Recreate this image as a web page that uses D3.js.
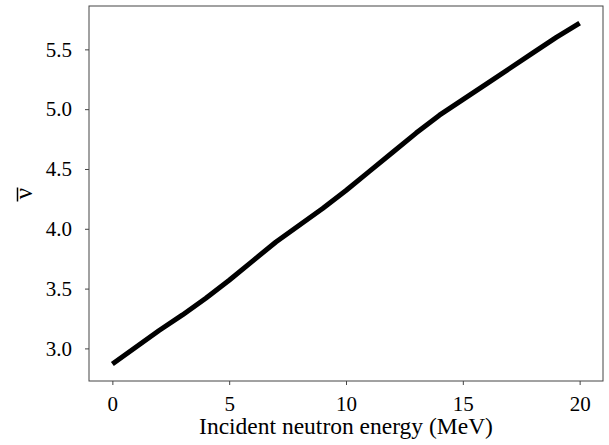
<!DOCTYPE html>
<html>
<head>
<meta charset="utf-8">
<script src="https://cdn.jsdelivr.net/npm/d3@7"></script>
</head>
<body style="margin:0; background:#fff">
<div id="chart"></div>
<script>
// neutron energy (MeV) and average neutrons per fission
var energy = [0, 1, 2, 3, 4, 5, 6, 7, 8, 9, 10, 11, 12, 13, 14, 15, 16, 17, 18, 19, 20];
var nubar = [2.87, 3.01, 3.15, 3.28, 3.42, 3.57, 3.73, 3.89, 4.03, 4.17, 4.32,
             4.48, 4.64, 4.80, 4.95, 5.08, 5.21, 5.34, 5.47, 5.60, 5.72];
var xTicks = [0, 5, 10, 15, 20];
var yTicks = [3.0, 3.5, 4.0, 4.5, 5.0, 5.5];

var serif = "Liberation Serif";

var svgWidth = 609, svgHeight = 445;
var margin = { top: 6, right: 6, bottom: 64, left: 89 };
var width = svgWidth - margin.left - margin.right;
var height = svgHeight - margin.top - margin.bottom;

var svg = d3.select("#chart").append("svg")
    .attr("width", svgWidth)
    .attr("height", svgHeight);

var g = svg.append("g")
    .attr("transform", `translate(${margin.left}, ${margin.top})`);

// matplotlib style 5% padding
var xScale = d3.scaleLinear().domain([-1, 21]).range([0, width]);
var yLo = d3.min(nubar), yHi = d3.max(nubar), pad = (yHi - yLo) * 0.05;
var yScale = d3.scaleLinear().domain([yLo - pad, yHi + pad]).range([height, 0]);

var bottomAxis = d3.axisBottom(xScale).tickValues(xTicks).tickFormat(d3.format("d"))
    .tickSizeInner(4).tickSizeOuter(0).tickPadding(11);
var leftAxis = d3.axisLeft(yScale).tickValues(yTicks).tickFormat(d3.format(".1f"))
    .tickSizeInner(4).tickSizeOuter(0).tickPadding(13);

var xg = g.append("g").attr("transform", `translate(0, ${height})`).call(bottomAxis);
var yg = g.append("g").call(leftAxis);

[xg, yg].forEach(function (a) {
    a.select(".domain").remove();
    a.selectAll("line").attr("stroke", "#444").attr("stroke-width", 1);
    a.selectAll("text")
        .attr("font-family", serif)
        .attr("font-size", 21)
        .attr("fill", "#000");
});

// frame
g.append("rect")
    .attr("x", 0).attr("y", 0)
    .attr("width", width).attr("height", height)
    .attr("fill", "none")
    .attr("stroke", "#444")
    .attr("stroke-width", 1);

var line = d3.line()
    .x(function (d, i) { return xScale(energy[i]); })
    .y(function (d) { return yScale(d); });

g.append("path")
    .datum(nubar)
    .attr("d", line)
    .attr("fill", "none")
    .attr("stroke", "#000")
    .attr("stroke-width", 5)
    .attr("stroke-linejoin", "round");

// axis labels
svg.append("text")
    .attr("x", margin.left + xScale(10))
    .attr("y", 434)
    .attr("text-anchor", "middle")
    .attr("font-family", serif)
    .attr("font-size", 23.5)
    .text("Incident neutron energy (MeV)");

// nu with a bar over it
var nuY = margin.top + height / 2;
svg.append("text")
    .attr("transform", `translate(32, ${nuY}) rotate(-90)`)
    .attr("text-anchor", "middle")
    .attr("font-family", serif)
    .attr("font-size", 25)
    .text("\u03BD");

svg.append("line")
    .attr("x1", 17.5).attr("x2", 17.5)
    .attr("y1", nuY - 6).attr("y2", nuY + 8)
    .attr("stroke", "#000")
    .attr("stroke-width", 1.5);
</script>
</body>
</html>
